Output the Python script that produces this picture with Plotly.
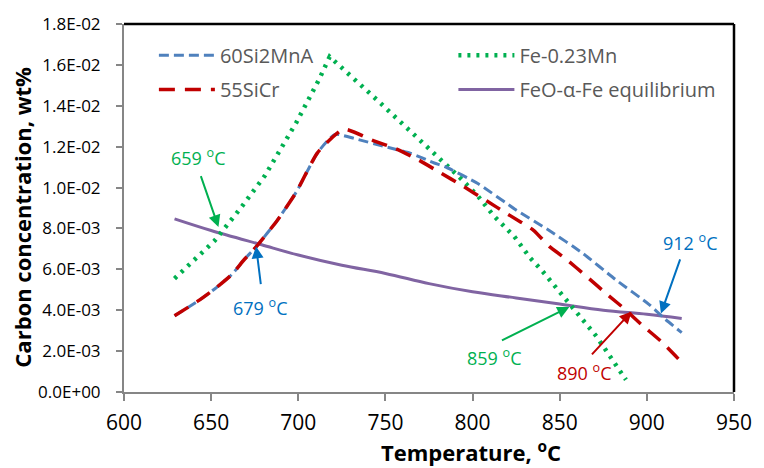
import plotly.graph_objects as go

# ---------------- data ----------------
T_blue = [629, 643, 652, 662, 669, 676, 688, 699, 711, 721, 733, 750, 765, 778, 784, 803, 825, 844, 863,
          882, 901, 910, 920]
C_blue = [0.00373, 0.00448, 0.00504, 0.00576, 0.00648, 0.00712, 0.0084, 0.0098, 0.0117, 0.0126, 0.01238,
          0.0120, 0.01166, 0.0112, 0.01103, 0.0102, 0.0089, 0.0079, 0.0068, 0.0055, 0.0043, 0.0036, 0.0029]

T_red = [629, 643, 652, 662, 669, 676, 688, 699, 711, 726, 743, 756, 769, 782, 793, 808, 820, 835, 844,
         854, 865, 878, 887, 897, 908, 920]
C_red = [0.00373, 0.00448, 0.00504, 0.00576, 0.00648, 0.00712, 0.0084, 0.0098, 0.0117, 0.01286, 0.0123,
         0.0119, 0.01135, 0.0107, 0.01015, 0.00935, 0.00871, 0.00791, 0.00712, 0.00648, 0.00568, 0.00472,
         0.00408, 0.00329, 0.00249, 0.00145]

T_green = [629, 637, 644, 652, 667, 681, 699, 712, 718, 745, 780, 792, 803, 812, 824, 833, 840, 850, 861,
           871, 880, 888]
C_green = [0.00555, 0.0062, 0.0068, 0.0074, 0.0090, 0.0106, 0.0132, 0.0153, 0.0164, 0.0143, 0.0115, 0.01055,
           0.00959, 0.00863, 0.0076, 0.00656, 0.00592, 0.00488, 0.00377, 0.00273, 0.0016, 0.0006]

T_purple = [629, 650, 679, 700, 725, 750, 775, 800, 825, 850, 875, 900, 920]
C_purple = [0.00847, 0.0079, 0.0072, 0.0067, 0.0062, 0.0058, 0.0053, 0.0049, 0.0046, 0.0043, 0.0040,
            0.0038, 0.0036]

x_ticks = [600, 650, 700, 750, 800, 850, 900, 950]
y_ticks = [0.0, 0.002, 0.004, 0.006, 0.008, 0.010, 0.012, 0.014, 0.016, 0.018]
y_ticktext = ["0.0E+00", "2.0E-03", "4.0E-03", "6.0E-03", "8.0E-03", "1.0E-02",
              "1.2E-02", "1.4E-02", "1.6E-02", "1.8E-02"]

# labels: (text, color, label_x, label_y, tail_x, tail_y, tip_x, tip_y)
labels = [
    ("659 <sup>o</sup>C", "#00B050", 642.3, 0.01149, 643.8, 0.01063, 654.2, 0.00807),
    ("679 <sup>o</sup>C", "#0070C0", 678.2, 0.00416, 678.6, 0.0052, 675.8, 0.00712),
    ("859 <sup>o</sup>C", "#00B050", 812.2, 0.00169, 816.0, 0.00249, 855.5, 0.00416),
    ("890 <sup>o</sup>C", "#C00000", 863.9, 0.00097, 867.7, 0.00177, 891.2, 0.00393),
    ("912 <sup>o</sup>C", "#0070C0", 925.0, 0.00736, 919.4, 0.00656, 908.1, 0.00384),
]

FONT = "Open Sans"

fig = go.Figure()
fig.add_trace(go.Scatter(x=T_purple, y=C_purple, mode="lines", name="FeO-α-Fe equilibrium",
                         line=dict(color="#8064A2", width=3, shape="spline"), legend="legend4"))
fig.add_trace(go.Scatter(x=T_green, y=C_green, mode="lines", name="Fe-0.23Mn",
                         line=dict(color="#00B050", width=4.5, dash="3px,6px"), legend="legend3"))
fig.add_trace(go.Scatter(x=T_blue, y=C_blue, mode="lines", name="60Si2MnA",
                         line=dict(color="#4F81BD", width=3, dash="10px,5px", shape="spline",
                                   smoothing=0.5), legend="legend"))
fig.add_trace(go.Scatter(x=T_red, y=C_red, mode="lines", name="55SiCr",
                         line=dict(color="#C00000", width=3.5, dash="16px,10px", shape="spline",
                                   smoothing=0.5), legend="legend2"))

leg_common = dict(font=dict(family=FONT, size=20, color="#595959"), bgcolor="rgba(0,0,0,0)",
                  xanchor="left", yanchor="middle", itemwidth=56)
fig.update_layout(
    legend=dict(x=0.049, y=0.915, **leg_common),
    legend2=dict(x=0.049, y=0.822, **leg_common),
    legend3=dict(x=0.54, y=0.915, **leg_common),
    legend4=dict(x=0.54, y=0.822, **leg_common),
)

for text, col, lx, ly, tx, ty, px, py in labels:
    fig.add_annotation(x=lx, y=ly, text=text, showarrow=False,
                       font=dict(family=FONT, size=18, color=col))
    fig.add_annotation(x=px, y=py, ax=tx, ay=ty, axref="x", ayref="y", text="",
                       showarrow=True, arrowhead=2, arrowsize=1.2, arrowwidth=2, arrowcolor=col)

# axis titles as annotations for exact placement
fig.add_annotation(xref="paper", yref="paper", x=(477 - 124) / 621, y=-(453 - 392) / 376,
                   text="Temperature, <sup>o</sup>C", showarrow=False, yanchor="middle",
                   font=dict(family=FONT, size=22, color="black", weight="bold"))
fig.add_annotation(xref="paper", yref="paper", x=-(124 - 20) / 621, y=(392 - 213) / 376,
                   text="Carbon concentration, wt%", showarrow=False, textangle=-90,
                   xanchor="center", yanchor="middle",
                   font=dict(family=FONT, size=22, color="black", weight="bold"))

# frame top/right in black
fig.add_shape(type="line", xref="paper", yref="paper", x0=0, x1=1, y0=1, y1=1,
              line=dict(color="black", width=2.5))
fig.add_shape(type="line", xref="paper", yref="paper", x0=1, x1=1, y0=0, y1=1,
              line=dict(color="black", width=2.5))

fig.update_xaxes(range=[600, 950], tickvals=x_ticks, ticks="outside", ticklen=7, tickcolor="#868686",
                 tickwidth=1.5, showline=True, linecolor="#868686", linewidth=2, showgrid=False,
                 zeroline=False, tickfont=dict(family=FONT, size=21, color="black"),
                 ticklabelstandoff=4)
fig.update_yaxes(range=[0, 0.018], tickvals=y_ticks, ticktext=y_ticktext, ticks="outside", ticklen=6,
                 tickcolor="#868686", tickwidth=1.5, showline=True, linecolor="#868686", linewidth=2,
                 showgrid=False, zeroline=False, tickfont=dict(family=FONT, size=17, color="black"),
                 ticklabelstandoff=12)

fig.update_layout(width=764, height=468, margin=dict(l=124, r=19, t=16, b=76),
                  plot_bgcolor="white", paper_bgcolor="white", showlegend=True)

fig.write_html("out.html")
